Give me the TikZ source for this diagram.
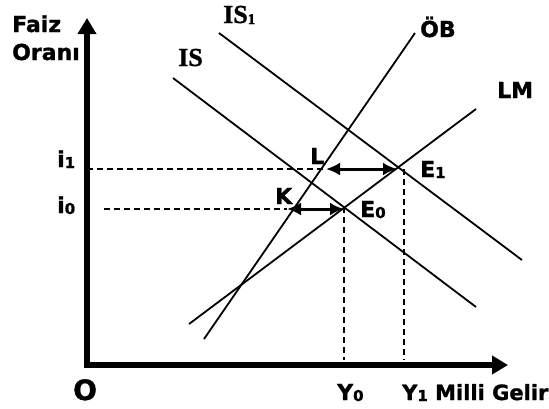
\documentclass[tikz,border=0pt]{standalone}
\usepackage{fontspec}
\setmainfont{DejaVu Sans}[BoldFeatures={FakeBold=1.2}]
\newfontfamily\isfont{Liberation Serif}[BoldFeatures={FakeBold=1}]
\usetikzlibrary{arrows.meta}
\newcommand{\lowidx}[1]{\raisebox{-1pt}{\fontsize{15}{15}\selectfont #1}}
\tikzset{every node/.style={font=\fontsize{22}{26}\selectfont\bfseries, inner sep=0pt, anchor=base west},
  >={Latex[length=14pt, width=13pt]},
  curve/.style={line width=1.8pt},
  guide/.style={line width=1.8pt, dash pattern=on 6pt off 4pt},
  axis/.style={line width=5.5pt, -{Triangle[length=16pt, width=18pt]}},
  shiftarrow/.style={line width=3pt, <->},
  islabel/.style={font=\fontsize{26}{30}\selectfont\isfont\bfseries}}

\begin{document}
\begin{tikzpicture}[x=1pt, y=-1pt]
    \useasboundingbox (0,0) rectangle (549,408);
    % axes
    \coordinate (o) at (87,365);
    \coordinate (ytop) at (87,18);
    \coordinate (xend) at (508,365);
    \draw [axis] ([yshift=-2.75pt]o) -- (ytop);
    \draw [axis] ([xshift=-2.75pt]o) -- (xend);
    % curves
    \coordinate (is-a) at (173,78);   \coordinate (is-b) at (476,307);
    \coordinate (isone-a) at (219,33); \coordinate (isone-b) at (522,260);
    \coordinate (lm-a) at (189,324);  \coordinate (lm-b) at (476,109);
    \coordinate (ob-a) at (204,339);  \coordinate (ob-b) at (415,33);
    \draw [curve] (is-a) -- (is-b);
    \draw [curve] (isone-a) -- (isone-b);
    \draw [curve] (lm-a) -- (lm-b);
    \draw [curve] (ob-a) -- (ob-b);
    % equilibrium points
    \coordinate (e0) at (344,209);
    \coordinate (e1) at (397,169);
    \coordinate (k) at (287,209);
    \coordinate (l) at (326,169);
    \coordinate (ione) at (87,169);
    \coordinate (izero) at (104,209);
    \coordinate (yzero) at (344,360);
    \coordinate (yone-top) at (404,169);
    \coordinate (yone) at (404,360);
    \draw [guide] (ione) -- (l);
    \draw [guide] (izero) -- (k);
    \draw [guide] (344,207) -- (yzero);
    \draw [guide] (yone-top) -- (yone);
    \draw [shiftarrow] (l) -- (e1);
    \draw [shiftarrow] (k) -- (e0);
    % labels
    \node (faiz) at (12,32) {Faiz};
    \node (orani) at (12,60) {Oranı};
    \node [islabel] (lblIS) at (178,66) {IS};
    \node [islabel] (lblISone) at (223,23) {IS\lowidx{1}};
    \node (lblOB) at (420,37) {ÖB};
    \node (lblLM) at (497,98) {LM};
    \node (lblione) at (57,167) {i\lowidx{1}};
    \node (lblizero) at (57,213) {i\lowidx{0}};
    \node (lblL) at (310,164) {L};
    \node (lblK) at (275,204) {K};
    \node (lblEone) at (420,177) {E\lowidx{1}};
    \node (lblEzero) at (360,217) {E\lowidx{0}};
    \node [font=\fontsize{28}{32}\selectfont\bfseries] (lblO) at (73,400) {O};
    \node (lblYzero) at (337,400) {Y\lowidx{0}};
    \node [font=\fontsize{21}{25}\selectfont\bfseries] (lblYone) at (402,400) {Y\lowidx{1} Milli Gelir};
\end{tikzpicture}
\end{document}
